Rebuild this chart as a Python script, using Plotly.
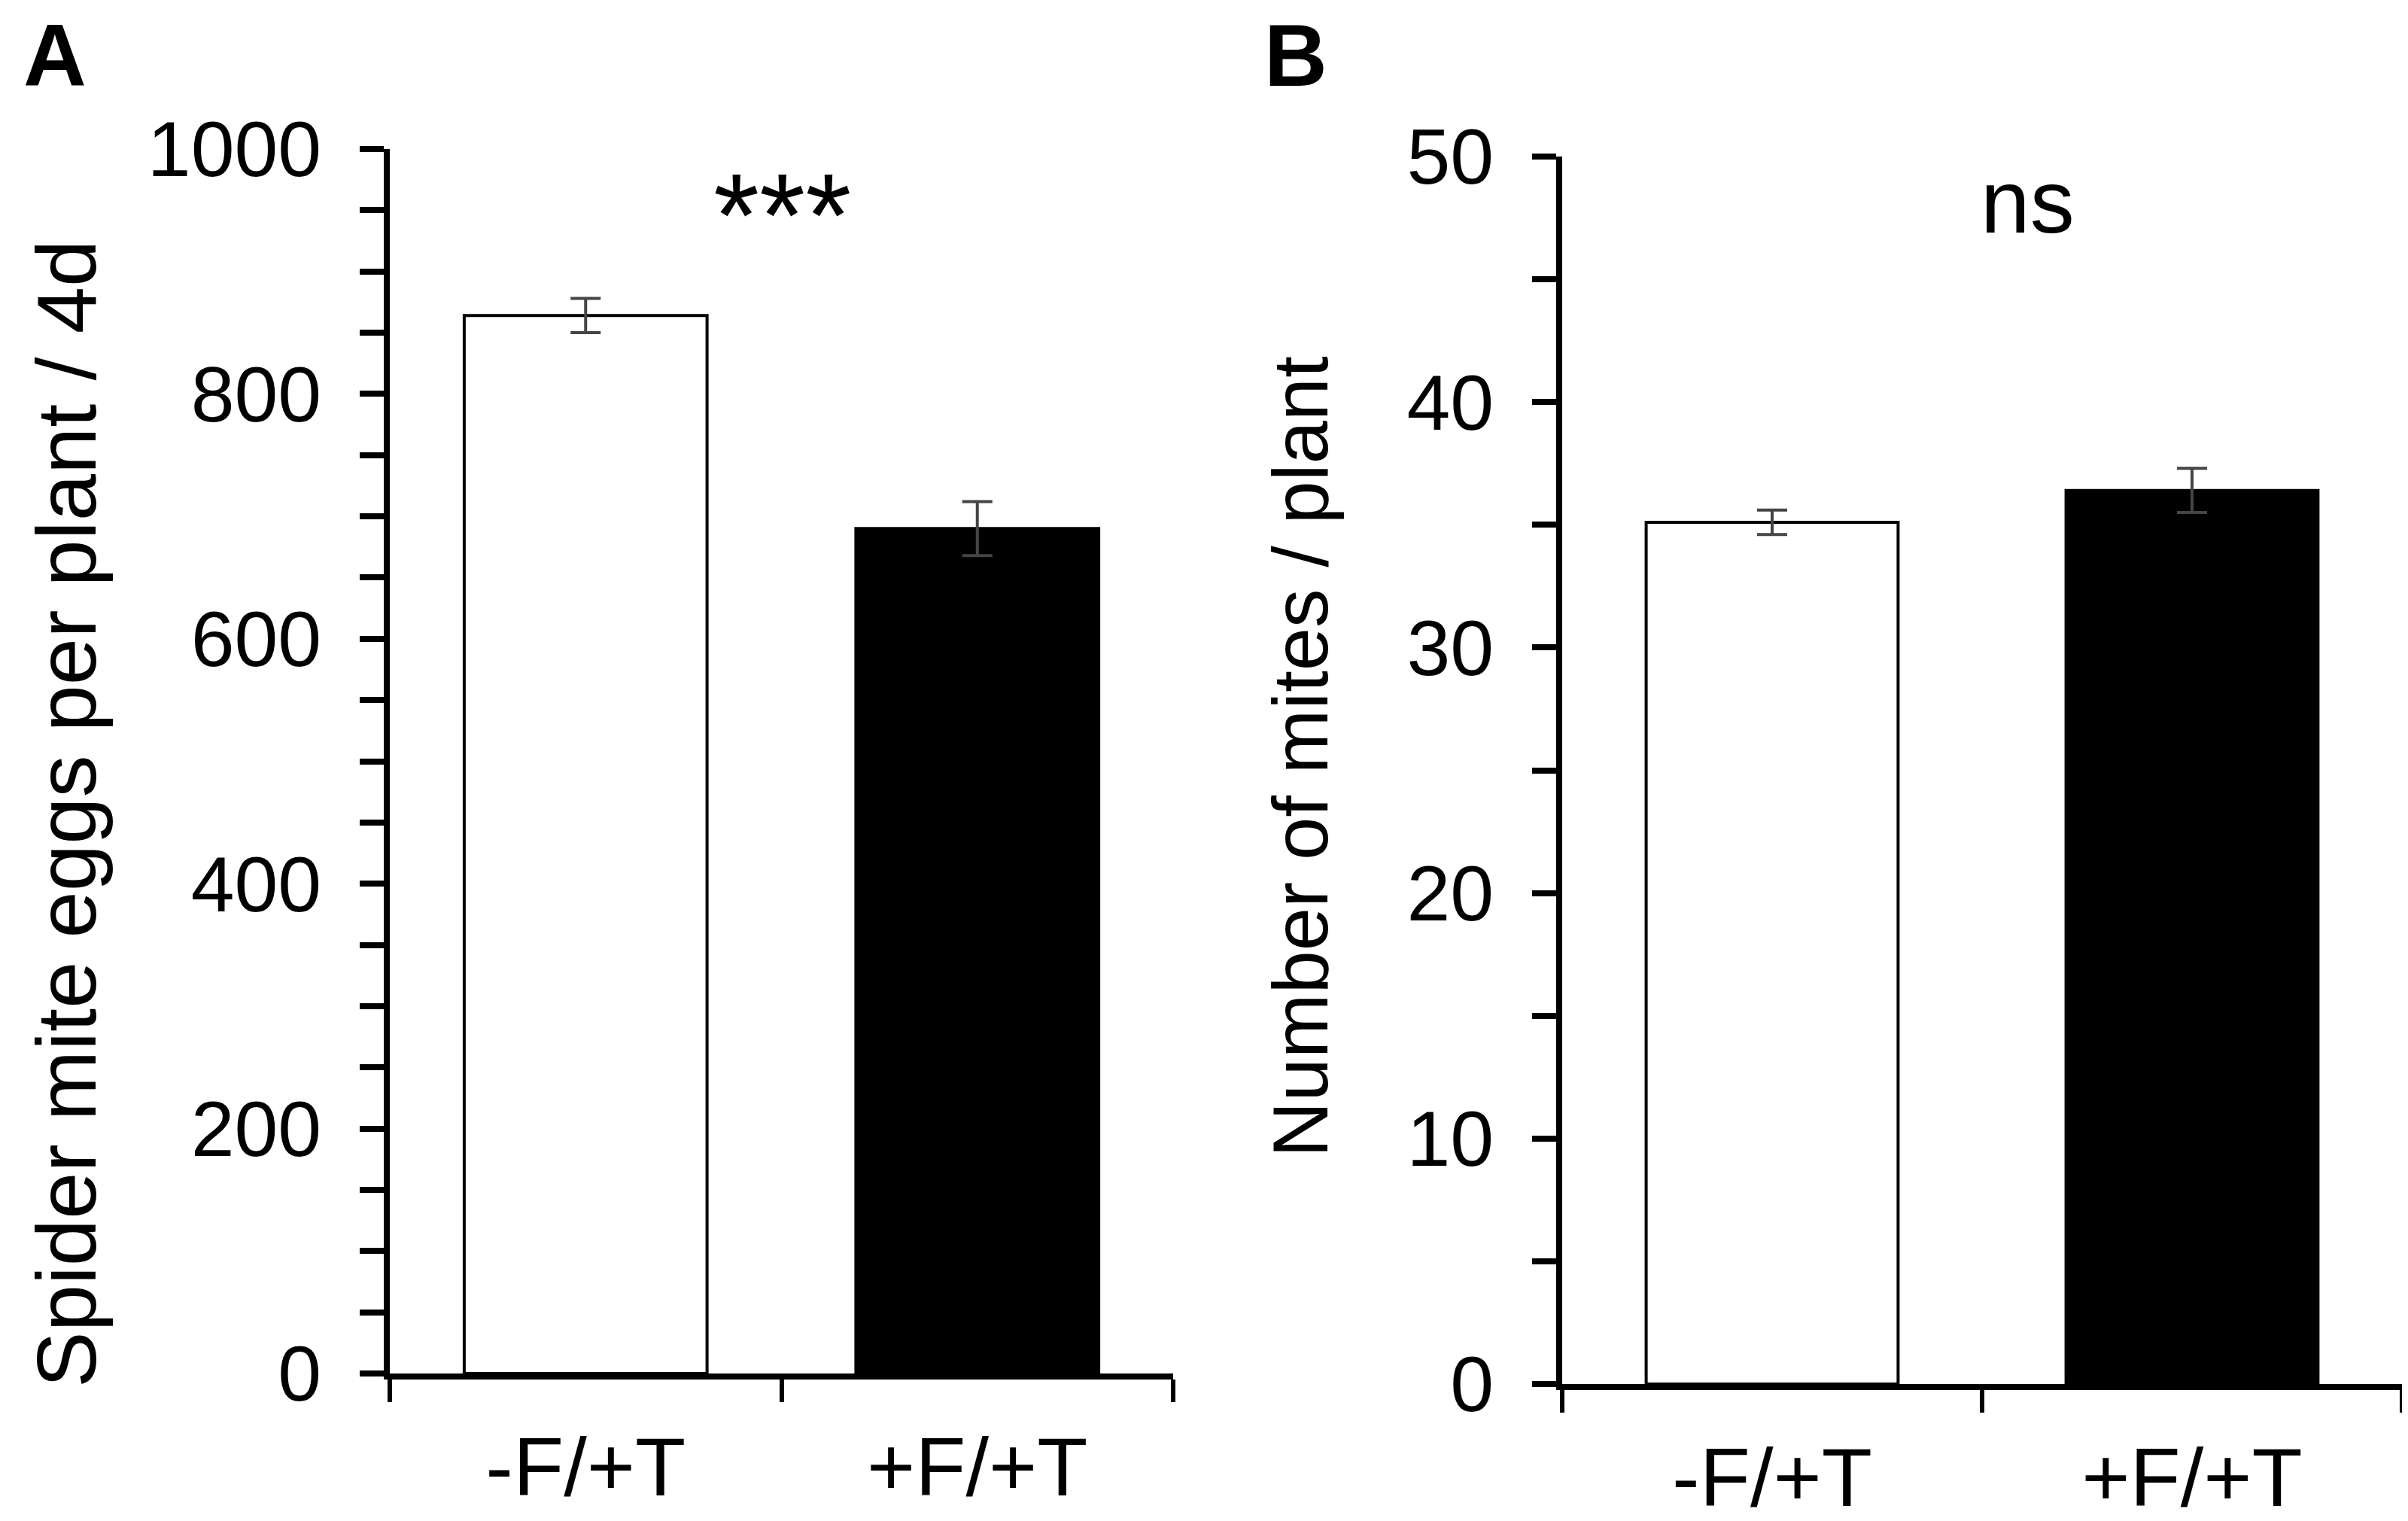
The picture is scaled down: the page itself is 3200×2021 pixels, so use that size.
import plotly.graph_objects as go

categories = ["-F/+T", "+F/+T"]
eggs_mean = [864, 690]
eggs_err = [14, 22]
mites_mean = [35.1, 36.4]
mites_err = [0.5, 0.9]
bar_colors = ["white", "black"]

W, H = 3200, 2021
def px(x):
    return x / W
def py(y):
    return 1 - y / H

FONT = "Liberation Sans, Arial, sans-serif"

fig = go.Figure()
fig.add_trace(go.Bar(
    x=categories, y=eggs_mean, xaxis="x", yaxis="y",
    marker=dict(color=bar_colors, line=dict(color="black", width=4)),
    width=0.62,
    error_y=dict(type="data", array=eggs_err, visible=True, color="#454545", thickness=4, width=20),
    showlegend=False,
))
fig.add_trace(go.Bar(
    x=categories, y=mites_mean, xaxis="x2", yaxis="y2",
    marker=dict(color=bar_colors, line=dict(color="black", width=4)),
    width=0.6,
    error_y=dict(type="data", array=mites_err, visible=True, color="#454545", thickness=4, width=20),
    showlegend=False,
))

xcommon = dict(
    showline=True, linecolor="black", linewidth=8, ticks="outside", tickson="boundaries",
    ticklen=30, tickwidth=6, tickcolor="black", showgrid=False, zeroline=False, automargin=False,
    tickfont=dict(family=FONT, size=110, color="black"), range=[-0.5, 1.5], ticklabelstandoff=22,
)
ycommon = dict(
    showline=True, linecolor="black", linewidth=8, ticks="outside", automargin=False,
    ticklen=32, tickwidth=8, tickcolor="black", showgrid=False, zeroline=False,
    tickfont=dict(family=FONT, size=104, color="black"), ticklabelstandoff=30,
)

fig.update_layout(
    width=W, height=H, margin=dict(l=0, r=0, t=0, b=0, pad=0, autoexpand=False),
    paper_bgcolor="white", plot_bgcolor="white", bargap=0.38,
    xaxis=dict(domain=[px(510), px(1551)], anchor="y", **xcommon),
    yaxis=dict(domain=[py(1817), py(190)], anchor="x", range=[0, 1000], dtick=200,
               minor=dict(dtick=50, ticks="outside", ticklen=32, tickwidth=8, tickcolor="black"),
               **ycommon),
    xaxis2=dict(domain=[px(2068), px(3184)], anchor="y2", **xcommon),
    yaxis2=dict(domain=[py(1831), py(200)], anchor="x2", range=[0, 50], dtick=10,
                minor=dict(dtick=5, ticks="outside", ticklen=32, tickwidth=8, tickcolor="black"),
                **ycommon),
)

annots = [
    dict(text="***", x=px(1031), y=py(278), size=157, angle=0),
    dict(text="ns", x=px(2686), y=py(260), size=118, angle=0),
    dict(text="Spider mite eggs per plant / 4d", x=px(80), y=py(1074), size=112, angle=-90),
    dict(text="Number of mites / plant", x=px(1720), y=py(998), size=103, angle=-90),
]
for a in annots:
    fig.add_annotation(text=a["text"], x=a["x"], y=a["y"], xref="paper", yref="paper",
                       showarrow=False, xanchor="center", yanchor="middle", textangle=a["angle"],
                       font=dict(family=FONT, size=a["size"], color="black"))

panel_labels = ["<b>A</b>", "<b>B</b>"]
panel_x = [65, 1714]
for lab, xx in zip(panel_labels, panel_x):
    fig.add_annotation(text=lab, x=px(xx), y=1, xref="paper", yref="paper",
                       showarrow=False, xanchor="center", yanchor="top", borderpad=0,
                       font=dict(family=FONT, size=116, color="black"))

fig.write_html("out.html")
